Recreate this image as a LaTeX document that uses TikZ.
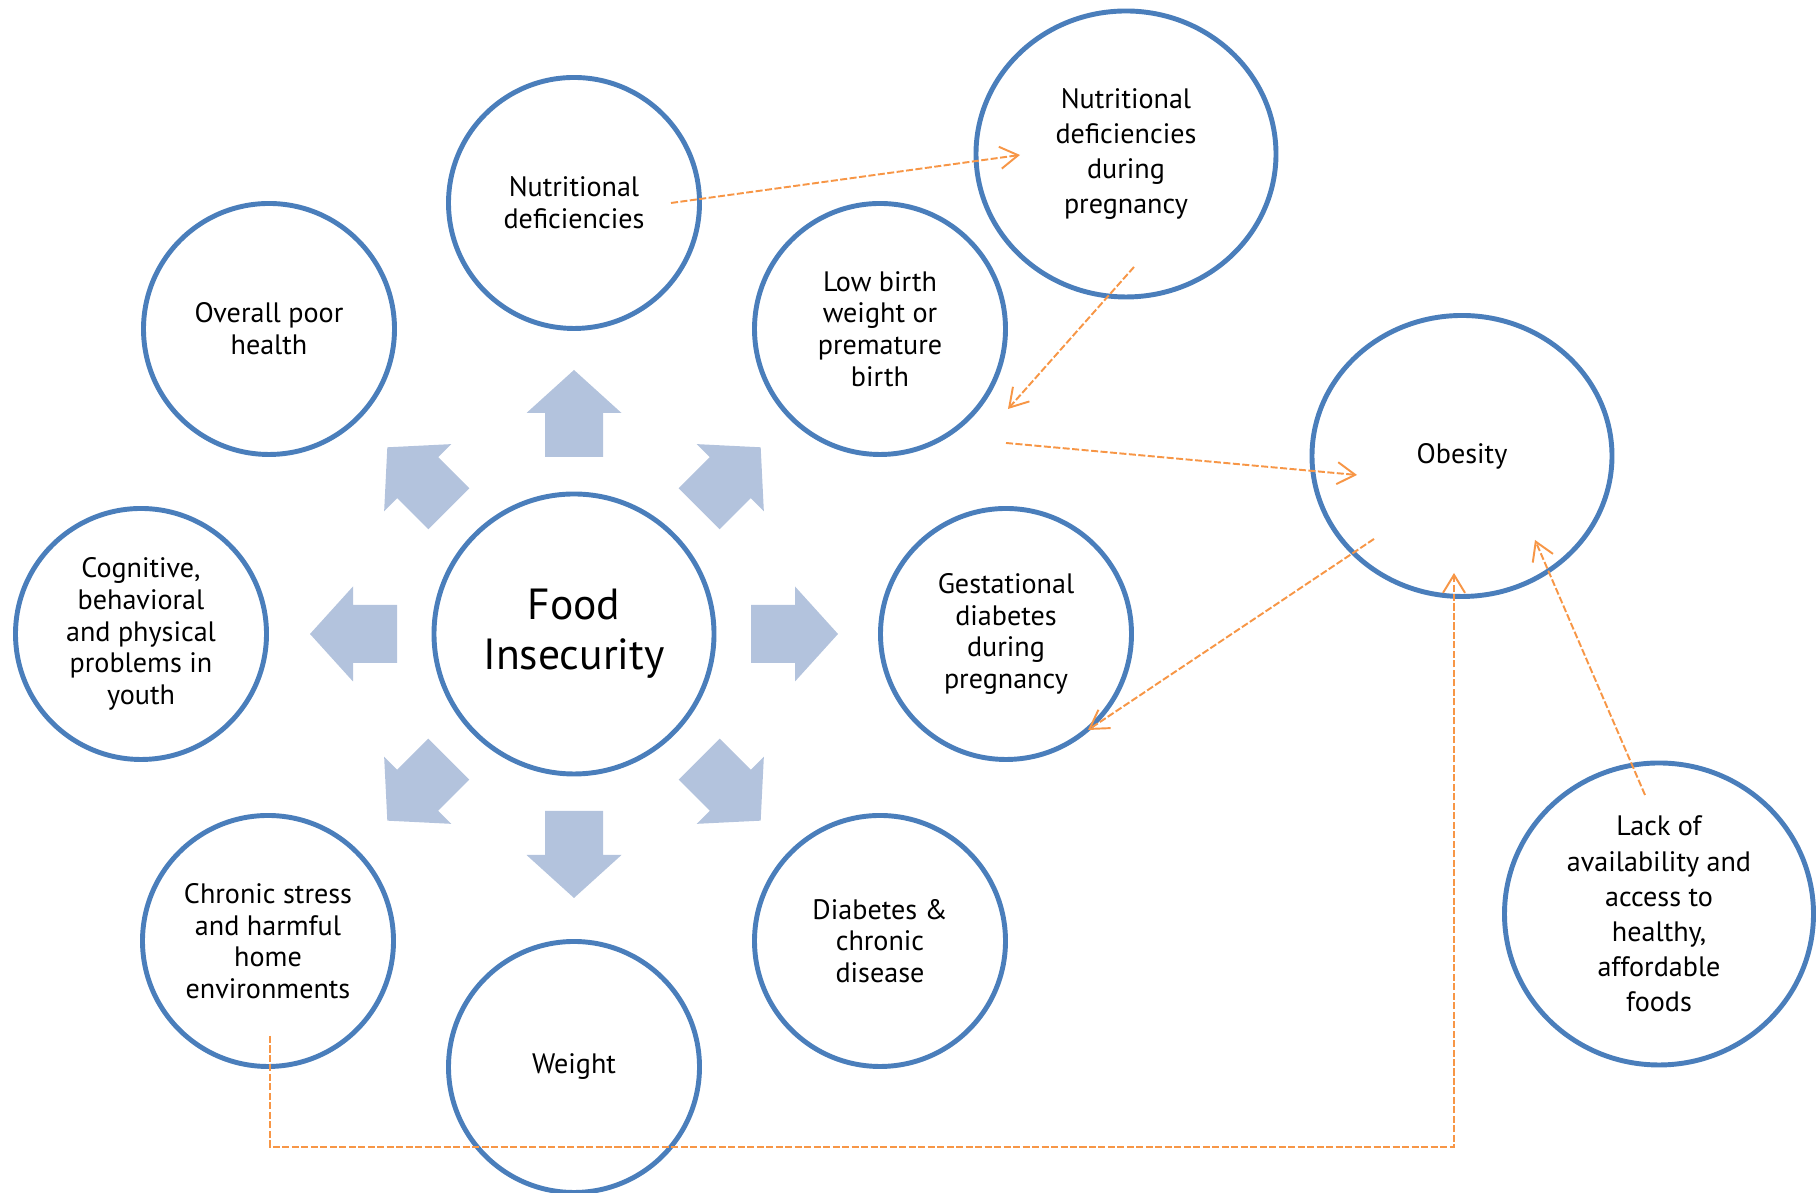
\documentclass[tikz,border=0pt]{standalone}
\usepackage{fontspec}
\setmainfont{PT Sans}
\usetikzlibrary{shapes.geometric, arrows.meta}
\definecolor{ringblue}{RGB}{74,126,187}
\definecolor{arrowblue}{RGB}{179,195,221}
\definecolor{linkorange}{RGB}{247,150,70}

\begin{document}
\begin{tikzpicture}[
  bubble/.style = {ellipse, draw = ringblue, line width = 1.4pt, fill = white,
    inner sep = 0pt, minimum width = 2.51cm, minimum height = 2.51cm,
    align = center, font = \fontsize{8}{9}\selectfont},
  bigbubble/.style = {bubble, font = \fontsize{8}{10}\selectfont},
  link/.style = {draw = linkorange, line width = 0.55pt,
    dash pattern = on 2pt off 0.7pt,
    -{Straight Barb[length = 1.8mm, width = 2.2mm]}}
]
\useasboundingbox (0,0) rectangle (18.18,11.93);

% centre
\node[bubble, minimum width = 2.8cm, minimum height = 2.8cm,
  font = \fontsize{12.4}{14.2}\selectfont] (food) at (5.74,5.59) {Food\\Insecurity};

% ring of outcomes
\node[bubble] (poor) at (2.69,8.64) {Overall poor\\health};
\node[bubble] (nutdef) at (5.74,9.90) {Nutritional\\deficiencies};
\node[bubble] (lowbirth) at (8.80,8.64) {Low birth\\weight or\\premature\\birth};
\node[bubble] (cognitive) at (1.41,5.59) {Cognitive,\\behavioral\\and physical\\problems in\\youth};
\node[bubble] (gest) at (10.06,5.59) {Gestational\\diabetes\\during\\pregnancy};
\node[bubble] (chronic) at (2.68,2.52) {Chronic stress\\and harmful\\home\\environments};
\node[bubble] (weight) at (5.74,1.26) {Weight};
\node[bubble] (diabetes) at (8.80,2.52) {Diabetes \&\\chronic\\disease};

% outer nodes
\node[bigbubble, minimum width = 3.0cm, minimum height = 2.86cm] (preg) at (11.26,10.39)
  {Nutritional\\deficiencies\\during\\pregnancy};
\node[bigbubble, minimum width = 3.0cm, minimum height = 2.81cm] (obesity) at (14.62,7.37) {Obesity};
\node[bigbubble, minimum width = 3.09cm, minimum height = 3.02cm] (lack) at (16.59,2.79)
  {Lack of\\availability and\\access to\\healthy,\\affordable\\foods};

% block arrows out of the centre
\foreach \a in {0,45,...,315}
  \fill[arrowblue, shift = {(food.center)}, rotate = \a]
    (1.77,-0.29) -- (2.21,-0.29) -- (2.21,-0.475) -- (2.64,0)
    -- (2.21,0.475) -- (2.21,0.29) -- (1.77,0.29) -- cycle;

% ends of the dashed links
\coordinate (nutdef-out) at (6.71,9.90);
\coordinate (preg-in) at (10.20,10.38);
\coordinate (preg-out) at (11.34,9.26);
\coordinate (lowbirth-in) at (10.08,7.84);
\coordinate (lowbirth-out) at (10.06,7.50);
\coordinate (obesity-in) at (13.57,7.18);
\coordinate (obesity-out) at (13.74,6.54);
\coordinate (gest-in) at (10.88,4.63);
\coordinate (chronic-out) at (2.70,1.57);
\coordinate (low-turn) at (14.54,0.46);
\coordinate (obesity-in2) at (14.54,6.20);
\coordinate (lack-out) at (16.45,3.98);
\coordinate (obesity-in3) at (15.35,6.53);

\draw[link] (nutdef-out) -- (preg-in);
\draw[link] (preg-out) -- (lowbirth-in);
\draw[link] (lowbirth-out) -- (obesity-in);
\draw[link] (obesity-out) -- (gest-in);
\draw[link] (chronic-out) |- (low-turn) -- (obesity-in2);
\draw[link] (lack-out) -- (obesity-in3);

\end{tikzpicture}
\end{document}
